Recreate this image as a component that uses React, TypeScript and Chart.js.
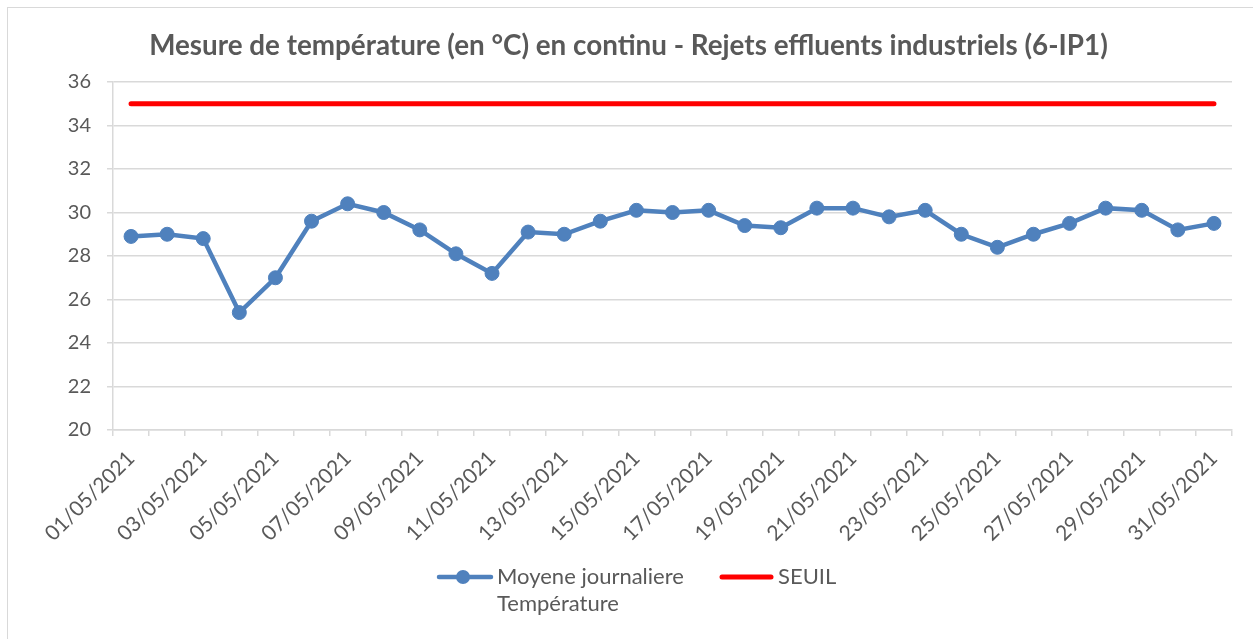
import React, { useEffect, useRef } from "react";
import { Chart, registerables } from "chart.js";

Chart.register(...registerables);

const dates = [
  "01/05/2021", "02/05/2021", "03/05/2021", "04/05/2021", "05/05/2021", "06/05/2021",
  "07/05/2021", "08/05/2021", "09/05/2021", "10/05/2021", "11/05/2021", "12/05/2021",
  "13/05/2021", "14/05/2021", "15/05/2021", "16/05/2021", "17/05/2021", "18/05/2021",
  "19/05/2021", "20/05/2021", "21/05/2021", "22/05/2021", "23/05/2021", "24/05/2021",
  "25/05/2021", "26/05/2021", "27/05/2021", "28/05/2021", "29/05/2021", "30/05/2021",
  "31/05/2021",
];

const moyenne = [
  28.9, 29.0, 28.8, 25.4, 27.0, 29.6, 30.4, 30.0, 29.2, 28.1, 27.2, 29.1, 29.0, 29.6, 30.1, 30.0,
  30.1, 29.4, 29.3, 30.2, 30.2, 29.8, 30.1, 29.0, 28.4, 29.0, 29.5, 30.2, 30.1, 29.2, 29.5,
];

const seuil = [
  35, 35, 35, 35, 35, 35, 35, 35, 35, 35, 35, 35, 35, 35, 35, 35,
  35, 35, 35, 35, 35, 35, 35, 35, 35, 35, 35, 35, 35, 35, 35,
];

const seriesNames = [["Moyene journaliere", "Température"], ["SEUIL"]];
const titleText = "Mesure de température (en °C) en continu - Rejets effluents industriels (6-IP1)";

const FONT = "Lato";
const TEXT = "#595959";
const GRID = "#d9d9d9";
const BLUE = "#4f81bd";
const RED = "#ff0000";

const titlePlugin = {
  id: "customTitle",
  afterDraw(chart: any) {
    const ctx = chart.ctx;
    ctx.save();
    ctx.font = `bold 27.8px ${FONT}`;
    ctx.fillStyle = TEXT;
    ctx.textAlign = "center";
    ctx.textBaseline = "middle";
    ctx.fillText(titleText, chart.width / 2 + 2, 46);
    ctx.restore();
  },
};

const legendPlugin = {
  id: "customLegend",
  afterDraw(chart: any) {
    const ctx = chart.ctx;
    const ds = chart.data.datasets;
    ctx.save();
    ctx.font = `22px ${FONT}`;
    ctx.fillStyle = TEXT;
    ctx.textBaseline = "middle";
    ctx.textAlign = "left";
    const y = 577;
    // series 1
    ctx.strokeStyle = ds[0].borderColor;
    ctx.lineWidth = 4.5;
    ctx.lineCap = "round";
    ctx.beginPath();
    ctx.moveTo(439, y);
    ctx.lineTo(491, y);
    ctx.stroke();
    ctx.fillStyle = ds[0].pointBackgroundColor;
    ctx.beginPath();
    ctx.arc(463, y, 7, 0, Math.PI * 2);
    ctx.fill();
    ctx.fillStyle = TEXT;
    const lines = ds[0].legendLines as string[];
    lines.forEach((t: string, i: number) => ctx.fillText(t, 497, y + i * 27));
    // series 2
    ctx.strokeStyle = ds[1].borderColor;
    ctx.lineWidth = 5;
    ctx.beginPath();
    ctx.moveTo(722, y);
    ctx.lineTo(771, y);
    ctx.stroke();
    (ds[1].legendLines as string[]).forEach((t: string, i: number) => ctx.fillText(t, 778, y + i * 27));
    ctx.restore();
  },
};

export default function App() {
  const ref = useRef<HTMLCanvasElement>(null);
  useEffect(() => {
    if (!ref.current) return;
    const chart = new Chart(ref.current, {
      type: "line",
      data: {
        labels: dates,
        datasets: [
          {
            label: seriesNames[0].join(" "),
            legendLines: seriesNames[0],
            data: moyenne,
            borderColor: BLUE,
            backgroundColor: BLUE,
            pointBackgroundColor: BLUE,
            pointBorderColor: BLUE,
            pointRadius: 7,
            pointBorderWidth: 1,
            borderWidth: 4.5,
            tension: 0,
          } as any,
          {
            label: seriesNames[1].join(" "),
            legendLines: seriesNames[1],
            data: seuil,
            borderColor: RED,
            backgroundColor: RED,
            pointRadius: 0,
            borderWidth: 5,
            borderCapStyle: "round",
            tension: 0,
          } as any,
        ],
      },
      options: {
        responsive: false,
        animation: false,
        layout: { padding: { left: 0, right: 21, top: 82, bottom: 0 } },
        plugins: {
          legend: { display: false },
          tooltip: { enabled: false },
          title: { display: false },
        },
        scales: {
          x: {
            type: "category",
            offset: true,
            grid: {
              offset: true,
              drawOnChartArea: false,
              drawTicks: true,
              tickLength: 6,
              color: GRID,
              lineWidth: 1.5,
            },
            border: { color: GRID, width: 1.5 },
            ticks: {
              autoSkip: false,
              minRotation: 45,
              maxRotation: 45,
              padding: 10,
              color: TEXT,
              font: { family: FONT, size: 21 },
              callback: (_v: any, i: number) => (i % 2 === 0 ? dates[i] : ""),
            },
            afterFit: (scale: any) => {
              scale.height = 209;
            },
          },
          y: {
            min: 20,
            max: 36,
            grid: {
              color: (c: any) => (c.tick && c.tick.value % 2 === 0 ? GRID : "rgba(0,0,0,0)"),
              tickColor: GRID,
              tickLength: 6,
              lineWidth: 1.5,
            },
            border: { color: GRID, width: 1.5 },
            ticks: {
              stepSize: 1,
              padding: 16,
              color: TEXT,
              font: { family: FONT, size: 20 },
              callback: (v: any) => (Number(v) % 2 === 0 ? String(v) : ""),
            },
            afterFit: (scale: any) => {
              scale.width = 113;
            },
          },
        },
      },
      plugins: [titlePlugin, legendPlugin],
    });
    return () => chart.destroy();
  }, []);

  return (
    <div style={{ position: "absolute", left: 0, top: 0, width: 1253, height: 639, overflow: "hidden", background: "#fff" }}>
      <div
        style={{
          position: "absolute",
          left: 7,
          top: 7,
          width: 1300,
          height: 700,
          borderLeft: "1.5px solid #d9d9d9",
          borderTop: "1.5px solid #d9d9d9",
        }}
      />
      <canvas ref={ref} width={1253} height={639} style={{ position: "absolute", left: 0, top: 0, display: "block" }} />
    </div>
  );
}
